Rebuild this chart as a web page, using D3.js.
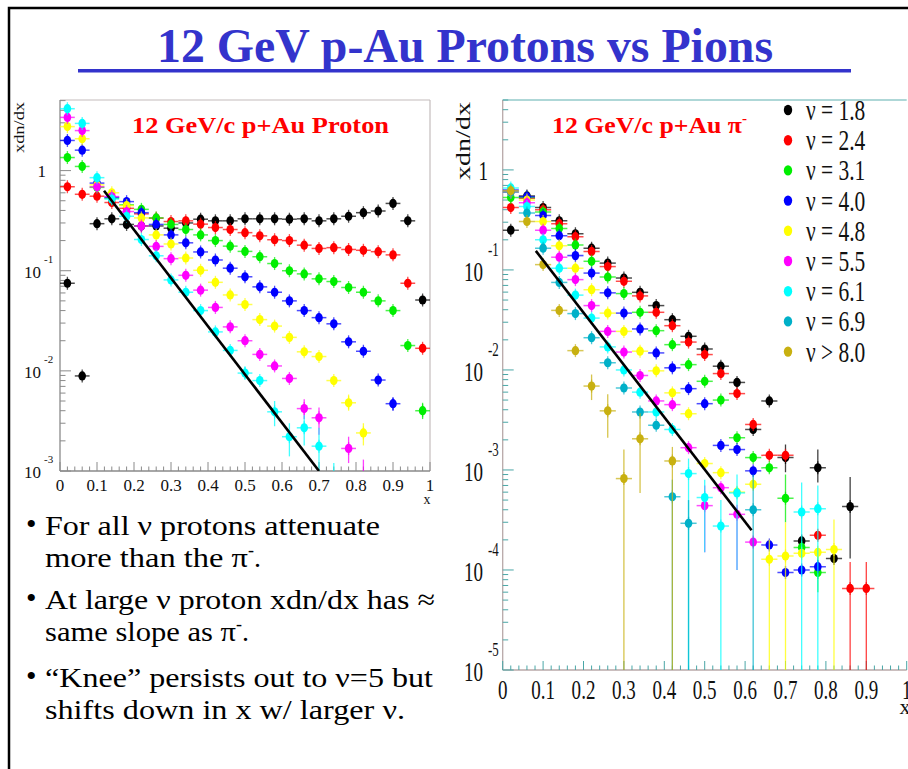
<!DOCTYPE html>
<html>
<head>
<meta charset="utf-8">
<script src="https://cdn.jsdelivr.net/npm/d3@7"></script>
<style>
  body { margin: 0; background: #fff; }
  svg { display: block; }
  text { font-family: "Liberation Serif", "Times New Roman", serif; }
</style>
</head>
<body>
<svg id="slide" width="908" height="769"></svg>
<script>
// x bins (bin centres, width 0.04)
const xBins = [0.02, 0.06, 0.10, 0.14, 0.18, 0.22, 0.26, 0.30, 0.34, 0.38, 0.42, 0.46, 0.50,
  0.54, 0.58, 0.62, 0.66, 0.70, 0.74, 0.78, 0.82, 0.86, 0.90, 0.94, 0.98];

const nuLabels = ["ν = 1.8", "ν = 2.4", "ν = 3.1", "ν = 4.0", "ν = 4.8", "ν = 5.5", "ν = 6.1", "ν = 6.9", "ν > 8.0"];
const colors = ["#000000", "#ff0000", "#00ee00", "#0000ff", "#ffff00", "#ff00ff", "#00ffff", "#00b0c8", "#c8b010"];

// proton xdn/dx (left)
const pNu18 = [0.075, 0.0089, 0.295, 0.33, 0.29, 0.28, 0.28, 0.266, 0.30, 0.327, 0.315, 0.315, 0.33,
  0.33, 0.33, 0.327, 0.33, 0.315, 0.33, 0.35, 0.38, 0.395, 0.47, 0.315, 0.051];
const pNu24 = [0.69, 0.58, 0.555, 0.48, 0.42, 0.37, 0.335, 0.31, 0.315, 0.292, 0.27, 0.258, 0.24,
  0.223, 0.204, 0.2, 0.18, 0.167, 0.17, 0.163, 0.16, 0.155, 0.144, 0.075, 0.0168];
const pNu31 = [1.35, 1.1, 0.68, 0.53, 0.455, 0.41, 0.337, 0.29, 0.258, 0.228, 0.2, 0.176, 0.156,
  0.138, 0.118, 0.1, 0.093, 0.083, 0.078, 0.068, 0.061, 0.05, 0.04, 0.0179, 0.004];
const pNu40 = [2.0, 1.6, 0.75, 0.54, 0.49, 0.38, 0.29, 0.228, 0.19, 0.154, 0.128, 0.106, 0.087,
  0.069, 0.061, 0.05, 0.04, 0.034, 0.0295, 0.0195, 0.0157, 0.0081, 0.0047, null, null];
const pNu48 = [2.75, 2.08, 0.72, 0.6, 0.447, 0.337, 0.228, 0.185, 0.134, 0.101, 0.0766, 0.0573, 0.046,
  0.0325, 0.028, 0.0216, 0.0155, 0.0139, 0.008, 0.0048, 0.0024, null, null, null, null];
const pNu55 = [3.4, 2.51, 0.69, 0.55, 0.39, 0.28, 0.175, 0.132, 0.09, 0.064, 0.043, 0.0275, 0.02,
  0.0146, 0.0112, 0.0084, 0.0042, 0.0034, null, 0.00168, 0.0008, null, null, null, null];
const pNu61 = [4.15, 2.96, 0.85, 0.52, 0.35, 0.205, 0.141, 0.081, 0.061, 0.04, 0.0245, 0.016, 0.0095,
  0.008, 0.0039, 0.0022, 0.0027, 0.00177, 0.0008, null, null, null, null, null, null];
const protonSeries = [pNu18, pNu24, pNu31, pNu40, pNu48, pNu55, pNu61];

// pi- xdn/dx (right)
const piNu18 = [0.25, 0.55, 0.42, 0.31, 0.23, 0.165, 0.117, 0.083, 0.0597, 0.044, 0.0318, 0.0217, 0.0162,
  0.0109, 0.0075, 0.00254, 0.0049, 0.00133, 0.000195, 0.00105, 0.00013, 0.00043, null];
const piNu24 = [0.42, 0.52, 0.40, 0.29, 0.215, 0.153, 0.108, 0.077, 0.055, 0.0377, 0.0277, 0.019, 0.01425,
  0.0092, 0.0058, 0.00285, 0.0014, 0.0014, null, 0.000222, null, 0.0000654, 0.0000654];
const piNu31 = [0.53, 0.53, 0.38, 0.26, 0.178, 0.122, 0.085, 0.058, 0.0377, 0.0247, 0.0179, 0.0113, 0.0077,
  0.005, 0.0021, 0.00133, 0.00105, 0.00052, 0.000168, 0.0000944, null, null, null];
const piNu40 = [0.63, 0.54, 0.35, 0.22, 0.139, 0.093, 0.059, 0.037, 0.0257, 0.0148, 0.0105, 0.0065, 0.0046,
  0.00176, 0.0016, 0.00098, 0.000178, 0.0000944, 0.0001, 0.000108, null, null, null];
const piNu48 = [0.6, 0.5, 0.305, 0.174, 0.104, 0.0634, 0.037, 0.0243, 0.0154, 0.0098, 0.0059, 0.00365, 0.00116,
  0.00094, 0.0006, 0.00072, 0.000128, 0.000138, 0.000147, 0.00015, 0.00016, null, null];
const piNu55 = [0.6, 0.47, 0.25, 0.134, 0.08, 0.044, 0.0243, 0.0151, 0.0088, 0.0049, 0.0045, 0.00167, 0.00044,
  0.000665, 0.00036, 0.00019, null, null, null, null, null, null, null];
const piNu61 = [0.66, 0.43, 0.2, 0.104, 0.056, 0.033, 0.017, 0.01, 0.006, 0.0038, 0.00254, 0.00092, 0.00053,
  0.000275, 0.00059, null, null, null, 0.00038, 0.00041, null, null, null];
const piNu69 = [0.6, 0.37, 0.165, 0.075, 0.0366, 0.021, 0.0118, 0.0066, 0.0038, 0.0028, 0.00054, 0.000293, null,
  null, null, 0.0004, null, null, null, null, null, null, null];
const piNu80 = [0.62, 0.305, 0.113, 0.0394, 0.0156, 0.0069, 0.0039, 0.00082, 0.00205, null, 0.00123, null, null,
  null, null, null, null, null, null, null, null, null, null];
const pionSeries = [piNu18, piNu24, piNu31, piNu40, piNu48, piNu55, piNu61, piNu69, piNu80];

// long vertical error bars: [series, x, low, high]; low null = runs to the axis
const protonErrors = [
  [6, 0.50, 0.0082, 0.011], [6, 0.58, 0.0028, 0.005], [6, 0.62, 0.0014, 0.003], [6, 0.66, 0.0018, 0.0036],
  [6, 0.70, null, 0.0027], [6, 0.74, null, 0.0012],
  [5, 0.66, 0.0033, 0.0052], [5, 0.70, 0.0023, 0.0043], [5, 0.78, 0.0012, 0.0022], [5, 0.82, null, 0.0013],
  [4, 0.78, 0.004, 0.0058], [4, 0.82, 0.0018, 0.003],
  [3, 0.90, 0.004, 0.0054], [2, 0.98, 0.0033, 0.0048]
];
const pionErrors = [
  [8, 0.22, 0.005, 0.009], [8, 0.26, 0.0021, 0.0057], [8, 0.30, null, 0.0016], [8, 0.34, 0.00059, 0.0037],
  [8, 0.42, null, 0.0017],
  [7, 0.42, null, 0.0008], [7, 0.46, null, 0.0005], [7, 0.62, null, 0.0009],
  [6, 0.46, null, 0.0013], [6, 0.50, 0.00015, 0.0008], [6, 0.54, null, 0.0005], [6, 0.58, 0.0001, 0.0009],
  [6, 0.74, null, 0.00075], [6, 0.78, null, 0.0007],
  [5, 0.50, 0.00015, 0.0007], [5, 0.58, 0.0001, 0.00045],
  [4, 0.66, null, 0.0002], [4, 0.70, null, 0.0003], [4, 0.82, null, 0.00032],
  [2, 0.70, 0.0003, 0.0009], [2, 0.78, 0.00006, 0.00014],
  [1, 0.86, null, 0.00012], [1, 0.90, null, 0.00012],
  [0, 0.70, 0.00095, 0.0018], [0, 0.78, 0.00075, 0.0016], [0, 0.86, 0.00013, 0.00085]
];

// straight reference lines [x, y] ends
const protonLine = [[0.119, 0.63], [0.70, 0.001]];
const pionLine = [[0.082, 0.155], [0.616, 0.00025]];

const xTicks = [0, 0.1, 0.2, 0.3, 0.4, 0.5, 0.6, 0.7, 0.8, 0.9, 1];
const xTickLabels = ["0", "0.1", "0.2", "0.3", "0.4", "0.5", "0.6", "0.7", "0.8", "0.9", "1"];

const bullets = [
  ["For all ν protons attenuate", "more than the π", "-", "."],
  ["At large ν proton xdn/dx has ≈", "same slope as π", "-", "."],
  ["“Knee” persists out to ν=5 but", "shifts down in x w/ larger ν.", "", ""]
];

const svg = d3.select("#slide");

// slide border
svg.append("path").attr("d", "M9,769 L9,8 L908,8").attr("fill", "none")
  .attr("stroke", "#000").attr("stroke-width", 2.5);

// slide title
svg.append("text").attr("x", 157).attr("y", 62)
  .attr("font-size", 48).attr("font-weight", "bold").attr("fill", "#3333cc")
  .attr("textLength", 616).attr("lengthAdjust", "spacingAndGlyphs")
  .text("12 GeV p-Au Protons vs Pions");
svg.append("rect").attr("x", 78).attr("y", 69).attr("width", 773).attr("height", 3.5).attr("fill", "#3333cc");

let clipId = 0;

function drawPanel(cfg) {
  const { x, y, series, errors, line } = cfg;
  const g = svg.append("g");
  const [x0, x1] = x.range();
  const [yb, yt] = y.range();

  // frame
  g.append("line").attr("x1", x0).attr("x2", x1).attr("y1", yt).attr("y2", yt)
    .attr("stroke", cfg.frame).attr("stroke-width", 1.2);
  if (cfg.rightEdge) {
    g.append("line").attr("x1", x1).attr("x2", x1).attr("y1", yt).attr("y2", yb)
      .attr("stroke", cfg.frame).attr("stroke-width", 1.2);
  }
  g.append("line").attr("x1", x0).attr("x2", x1).attr("y1", yb).attr("y2", yb)
    .attr("stroke", cfg.axis).attr("stroke-width", 1.3);
  g.append("line").attr("x1", x0).attr("x2", x0).attr("y1", yt).attr("y2", yb)
    .attr("stroke", cfg.axis).attr("stroke-width", 1.3);

  // x ticks
  const minor = d3.range(0, 1.0001, 0.02);
  g.selectAll(null).data(minor).join("line")
    .attr("x1", d => x(d)).attr("x2", d => x(d))
    .attr("y1", yb).attr("y2", (d, i) => yb - (i % 5 === 0 ? 9 : 4.5))
    .attr("stroke", cfg.tick).attr("stroke-width", 1);

  // y ticks (log)
  const [lo, hi] = y.domain();
  const yt2 = [];
  for (let k = Math.floor(Math.log10(lo)); k <= 1; k++) {
    for (let m = 1; m <= 9; m++) {
      const v = m * Math.pow(10, k);
      if (v >= lo * 0.999 && v <= hi) yt2.push({ v, major: m === 1 });
    }
  }
  g.selectAll(null).data(yt2).join("line")
    .attr("x1", x0).attr("x2", d => x0 + (d.major ? 11 : 5.5))
    .attr("y1", d => y(d.v)).attr("y2", d => y(d.v))
    .attr("stroke", cfg.tick).attr("stroke-width", 1);

  // x tick labels
  g.selectAll(null).data(xTicks).join("text")
    .attr("transform", d => `translate(${x(d)},${cfg.xLabelY}) scale(${cfg.sx},1)`)
    .attr("text-anchor", "middle").attr("font-size", cfg.tickFont).attr("fill", "#111")
    .text((d, i) => xTickLabels[i]);

  // y tick labels
  const decades = yt2.filter(d => d.major);
  decades.forEach(d => {
    const e = Math.round(Math.log10(d.v));
    const py = y(d.v);
    if (e === 0) {
      g.append("text").attr("transform", `translate(${cfg.oneX},${py + cfg.oneDy}) scale(${cfg.sx},1)`)
        .attr("text-anchor", "end").attr("font-size", cfg.tickFont).attr("fill", "#111").text("1");
    } else {
      g.append("text").attr("transform", `translate(${cfg.tenX},${py + cfg.tenDy}) scale(${cfg.sx},1)`)
        .attr("text-anchor", "end").attr("font-size", cfg.tickFont).attr("fill", "#111").text("10");
      g.append("text").attr("transform", `translate(${cfg.tenX + cfg.supDx},${py + cfg.supDy}) scale(${cfg.sx},1)`)
        .attr("font-size", cfg.supFont).attr("fill", "#111").text(String(e));
    }
  });

  // axis titles
  g.append("text").attr("transform", `translate(${cfg.yTitle[0]},${cfg.yTitle[1]}) rotate(-90)`)
    .attr("text-anchor", "end").attr("font-size", cfg.yTitleFont).attr("fill", "#111")
    .attr("textLength", cfg.yTitleLen).attr("lengthAdjust", "spacingAndGlyphs").text("xdn/dx");
  g.append("text").attr("x", cfg.xTitle[0]).attr("y", cfg.xTitle[1])
    .attr("text-anchor", "middle").attr("font-size", cfg.xTitleFont).attr("fill", "#111").text("x");

  // data
  const id = "clip" + (clipId++);
  svg.append("clipPath").attr("id", id).append("rect")
    .attr("x", x0).attr("y", yt).attr("width", x1 - x0).attr("height", yb - yt);
  const dg = g.append("g").attr("clip-path", `url(#${id})`);

  series.forEach((vals, si) => {
    const c = colors[si];
    const sg = dg.append("g");
    const pts = vals.map((v, i) => ({ x: xBins[i], v })).filter(d => d.v != null);
    const errs = errors.filter(e => e[0] === si);
    sg.selectAll("line.err").data(errs).join("line").attr("class", "err")
      .attr("x1", d => x(d[1])).attr("x2", d => x(d[1]))
      .attr("y1", d => d[2] == null ? yb : y(d[2])).attr("y2", d => y(d[3]))
      .attr("stroke", c).attr("stroke-opacity", 0.75).attr("stroke-width", 1.3);
    sg.selectAll("line.h").data(pts).join("line").attr("class", "h")
      .attr("x1", d => x(d.x - 0.02)).attr("x2", d => x(d.x + 0.02))
      .attr("y1", d => y(d.v)).attr("y2", d => y(d.v))
      .attr("stroke", c).attr("stroke-opacity", 0.7).attr("stroke-width", 1.5);
    sg.selectAll("line.v").data(pts).join("line").attr("class", "v")
      .attr("x1", d => x(d.x)).attr("x2", d => x(d.x))
      .attr("y1", d => y(d.v) - 6.5).attr("y2", d => y(d.v) + 6.5)
      .attr("stroke", c).attr("stroke-opacity", 0.7).attr("stroke-width", 1.3);
    sg.selectAll("ellipse").data(pts).join("ellipse")
      .attr("cx", d => x(d.x)).attr("cy", d => y(d.v))
      .attr("rx", 3.8).attr("ry", 4.6).attr("fill", c);
  });

  dg.append("line")
    .attr("x1", x(line[0][0])).attr("y1", y(line[0][1]))
    .attr("x2", x(line[1][0])).attr("y2", y(line[1][1]))
    .attr("stroke", "#000").attr("stroke-width", 2.6);

  return g;
}

// left: protons
const xL = d3.scaleLinear().domain([0, 1]).range([60, 430]);
const yL = d3.scaleLog().domain([1e-3, 5.07]).range([471, 100]);
const left = drawPanel({
  x: xL, y: yL, series: protonSeries, errors: protonErrors, line: protonLine,
  frame: "#c4bcbc", axis: "#8a8a8a", tick: "#8a8a8a", rightEdge: true,
  xLabelY: 491, tickFont: 17, sx: 1, supFont: 11,
  oneX: 46, oneDy: 6, tenX: 41, tenDy: 7, supDx: 3, supDy: -8,
  yTitle: [24, 102], yTitleFont: 15, yTitleLen: 51, xTitle: [427, 504], xTitleFont: 14
});
left.append("text").attr("x", 132).attr("y", 133)
  .attr("font-size", 24).attr("font-weight", "bold").attr("fill", "#ff0000")
  .attr("textLength", 257).attr("lengthAdjust", "spacingAndGlyphs")
  .text("12 GeV/c p+Au Proton");

// right: pions
const xR = d3.scaleLinear().domain([0, 1]).range([502.7, 906.7]);
const yR = d3.scaleLog().domain([1e-5, 5]).range([670, 100]);
const right = drawPanel({
  x: xR, y: yR, series: pionSeries, errors: pionErrors, line: pionLine,
  frame: "#5fb0b0", axis: "#b8a8a8", tick: "#4aa6a6", rightEdge: false,
  xLabelY: 699, tickFont: 28, sx: 0.68, supFont: 19,
  oneX: 488, oneDy: 10, tenX: 483, tenDy: 11, supDx: 5, supDy: -14,
  yTitle: [470, 102], yTitleFont: 21, yTitleLen: 78, xTitle: [905, 714], xTitleFont: 22
});
const pt = right.append("text").attr("x", 552).attr("y", 133)
  .attr("font-size", 24).attr("font-weight", "bold").attr("fill", "#ff0000");
pt.append("tspan").attr("textLength", 190).attr("lengthAdjust", "spacingAndGlyphs").text("12 GeV/c p+Au π");
pt.append("tspan").attr("font-size", 15).attr("dy", -10).text("-");

// legend
const legend = right.append("g");
nuLabels.forEach((lab, i) => {
  const ly = 110 + i * 30.2;
  legend.append("ellipse").attr("cx", 788).attr("cy", ly).attr("rx", 4.2).attr("ry", 5.2).attr("fill", colors[i]);
  legend.append("text").attr("transform", `translate(806,${ly + 10}) scale(0.74,1)`)
    .attr("font-size", 29).attr("fill", "#111").text(lab);
});

// bullet text
const lineY = [535, 567, 609, 641, 687, 719];
const lineLen = [335, 203, 390, 191, 388, 360];
bullets.forEach((b, bi) => {
  const y1 = lineY[bi * 2], y2 = lineY[bi * 2 + 1];
  svg.append("text").attr("x", 26).attr("y", y1 - 1).attr("font-size", 30).attr("fill", "#000").text("•");
  svg.append("text").attr("x", 45).attr("y", y1).attr("font-size", 28).attr("fill", "#000")
    .attr("textLength", lineLen[bi * 2]).attr("lengthAdjust", "spacingAndGlyphs").text(b[0]);
  const t2 = svg.append("text").attr("x", 45).attr("y", y2).attr("font-size", 28).attr("fill", "#000");
  t2.append("tspan").attr("textLength", lineLen[bi * 2 + 1]).attr("lengthAdjust", "spacingAndGlyphs").text(b[1]);
  if (b[2]) {
    t2.append("tspan").attr("font-size", 18).attr("dy", -11).text(b[2]);
    t2.append("tspan").attr("dy", 11).text(b[3]);
  }
});
</script>
</body>
</html>
